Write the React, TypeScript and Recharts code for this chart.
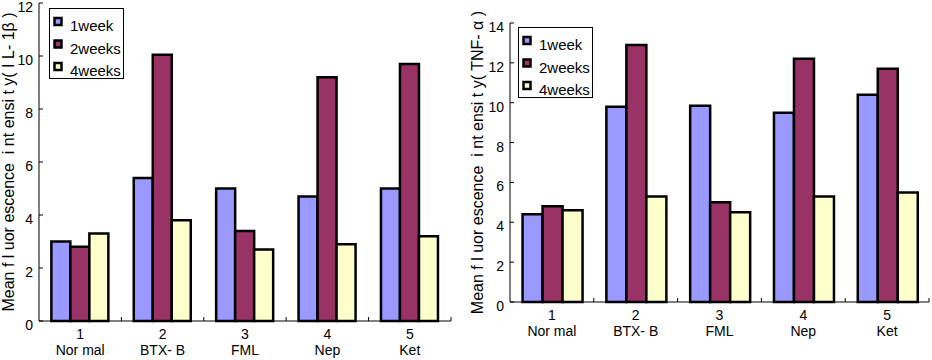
import React from 'react';
import { BarChart, Bar, XAxis, YAxis, Legend } from 'recharts';

const groupNumbers = ['1', '2', '3', '4', '5'];
const groupNames = ['Nor mal', 'BTX- B', 'FML', 'Nep', 'Ket'];
const seriesNames = ['1week', '2weeks', '4weeks'];
const seriesColors = ['#9999ff', '#993366', '#ffffcc'];

const il1bWeek1 = [3.0, 5.4, 5.0, 4.7, 5.0];
const il1bWeek2 = [2.8, 10.05, 3.4, 9.2, 9.7];
const il1bWeek4 = [3.3, 3.8, 2.7, 2.9, 3.2];
const il1bTicks = [0, 2, 4, 6, 8, 10, 12];

const tnfWeek1 = [4.4, 9.8, 9.85, 9.5, 10.4];
const tnfWeek2 = [4.8, 12.9, 5.0, 12.2, 11.7];
const tnfWeek4 = [4.6, 5.3, 4.5, 5.3, 5.5];
const tnfTicks = [0, 2, 4, 6, 8, 10, 12, 14];

const FONT = '"Liberation Sans", Arial, sans-serif';

const buildRows = (w1: number[], w2: number[], w4: number[]) =>
  groupNumbers.map((num, i) => ({ num, name: groupNames[i], w1: w1[i], w2: w2[i], w4: w4[i] }));

const il1bData = buildRows(il1bWeek1, il1bWeek2, il1bWeek4);
const tnfData = buildRows(tnfWeek1, tnfWeek2, tnfWeek4);

const YTick = (props: any) => {
  const { x, y, payload } = props;
  return (
    <g>
      <line x1={x + 6} x2={x + 10} y1={y} y2={y} stroke="#000" />
      <text x={x} y={y + 4} dy={5} textAnchor="end" fontSize={14} fontFamily={FONT} fill="#000">
        {payload.value}
      </text>
    </g>
  );
};

const XTick = (props: any) => {
  const { x, y, payload, index } = props;
  const half = payload.offset ?? 41;
  return (
    <g>
      <line x1={x + half} x2={x + half} y1={y} y2={y - 4} stroke="#000" />
      <text x={x} y={y + 18} textAnchor="middle" fontSize={14} fontFamily={FONT} fill="#000">
        {payload.value}
      </text>
      <text x={x} y={y + 34} textAnchor="middle" fontSize={14} fontFamily={FONT} fill="#000" style={{ whiteSpace: 'pre' }}>
        {groupNames[index]}
      </text>
    </g>
  );
};

const LegendBox = () => (
  <svg width={76} height={72} style={{ display: 'block', overflow: 'visible' }}>
    <rect x={0.5} y={0.5} width={74} height={70} fill="#fff" stroke="#000" />
    {seriesNames.map((s, i) => (
      <g key={s}>
        <rect x={5.5} y={10 + i * 22.5} width={7} height={7} fill={seriesColors[i]} stroke="#000" strokeWidth={2.5} />
        <text x={21} y={23 + i * 22.5} fontSize={15} fontFamily={FONT} fill="#000">
          {s}
        </text>
      </g>
    ))}
  </svg>
);

type PanelProps = {
  data: any[];
  ticks: number[];
  yMax: number;
  title: string;
  width: number;
  margin: { top: number; right: number; bottom: number; left: number };
  yAxisWidth: number;
  xAxisHeight: number;
  legendLeft: number;
  legendTop: number;
  titleX: number;
};

const Panel = ({ data, ticks, yMax, title, width, margin, yAxisWidth, xAxisHeight, legendLeft, legendTop, titleX }: PanelProps) => (
  <BarChart width={width} height={360} data={data} margin={margin} barCategoryGap="15%" barGap={0}>
    <XAxis
      dataKey="num"
      height={xAxisHeight}
      axisLine={{ stroke: '#000' }}
      tickLine={false}
      tickSize={0}
      tickMargin={0}
      interval={0}
      tick={<XTick />}
    />
    <YAxis
      domain={[0, yMax]}
      ticks={ticks}
      interval={0}
      width={yAxisWidth}
      axisLine={{ stroke: '#000' }}
      tickLine={false}
      tickSize={0}
      tickMargin={6}
      tick={<YTick />}
      label={{
        position: 'insideLeft',
        content: (p: any) => {
          const vb = p.viewBox;
          const cy = vb.y + vb.height / 2;
          return (
            <text
              x={vb.x + titleX}
              y={cy}
              transform={`rotate(-90, ${vb.x + titleX}, ${cy})`}
              textAnchor="middle"
              dominantBaseline="central"
              fontSize={16}
              fontFamily={FONT}
              fill="#000"
              style={{ whiteSpace: 'pre' }}
            >
              {title}
            </text>
          );
        },
      }}
    />
    <Legend
      layout="vertical"
      align="center"
      verticalAlign="middle"
      content={<LegendBox />}
      wrapperStyle={{ position: 'absolute', left: legendLeft, top: legendTop, width: 76, height: 72 }}
    />
    <Bar dataKey="w1" name={seriesNames[0]} fill={seriesColors[0]} stroke="#000" strokeWidth={2.5} isAnimationActive={false} />
    <Bar dataKey="w2" name={seriesNames[1]} fill={seriesColors[1]} stroke="#000" strokeWidth={2.5} isAnimationActive={false} />
    <Bar dataKey="w4" name={seriesNames[2]} fill={seriesColors[2]} stroke="#000" strokeWidth={2.5} isAnimationActive={false} />
  </BarChart>
);

export default function App() {
  return (
    <div style={{ position: 'absolute', left: 0, top: 0, width: 932, height: 360, background: '#fff', fontFamily: FONT }}>
      <div style={{ position: 'absolute', left: 0, top: 0 }}>
        <Panel
          data={il1bData}
          ticks={il1bTicks}
          yMax={12}
          title="Mean f l uor escence  i nt ensi t y( I L- 1β )"
          width={470}
          margin={{ top: 3, right: 19, bottom: 0, left: 0 }}
          yAxisWidth={39}
          xAxisHeight={39}
          legendLeft={49}
          legendTop={8}
          titleX={8}
        />
      </div>
      <div style={{ position: 'absolute', left: 470, top: 0 }}>
        <Panel
          data={tnfData}
          ticks={tnfTicks}
          yMax={14}
          title="Mean f l uor escence  i nt ensi t y( TNF- α )"
          width={462}
          margin={{ top: 23, right: 3, bottom: 18, left: 0 }}
          yAxisWidth={40}
          xAxisHeight={40}
          legendLeft={48}
          legendTop={27}
          titleX={7}
        />
      </div>
    </div>
  );
}
